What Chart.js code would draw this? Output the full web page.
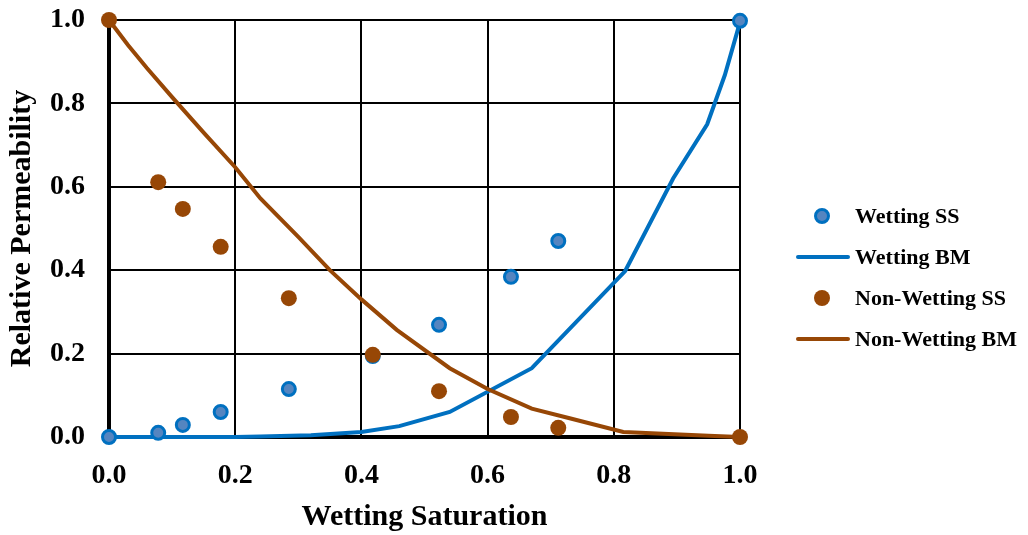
<!DOCTYPE html>
<html>
<head>
<meta charset="utf-8">
<script src="https://cdn.jsdelivr.net/npm/chart.js@4"></script>
<style>
  html, body { margin: 0; padding: 0; background: #fff; }
  #wrap { width: 1028px; height: 535px; position: relative; }
</style>
</head>
<body>
<div id="wrap"><canvas id="kr"></canvas></div>
<script>
// data
const seriesNames = ['Wetting SS', 'Wetting BM', 'Non-Wetting SS', 'Non-Wetting BM'];

const ssSat = [0, 0.078, 0.117, 0.177, 0.285, 0.418, 0.523, 0.637, 0.712, 1.0];
const wettingSS = [0, 0.01, 0.029, 0.06, 0.115, 0.194, 0.269, 0.384, 0.47, 0.998];
const nonWettingSS = [1.0, 0.611, 0.547, 0.456, 0.333, 0.197, 0.11, 0.048, 0.022, 0];

const wbmSat = [0, 0.1, 0.2, 0.24, 0.32, 0.40, 0.46, 0.54, 0.67, 0.818, 0.894, 0.948, 0.976, 1.0];
const wettingBM = [0, 0, 0, 0.001, 0.004, 0.012, 0.026, 0.06, 0.165, 0.398, 0.62, 0.75, 0.868, 0.995];

const nwbmSat = [0, 0.03, 0.06, 0.1, 0.15, 0.2, 0.24, 0.3, 0.35, 0.40, 0.456, 0.54, 0.6, 0.67, 0.73, 0.815, 0.95, 1.0];
const nonWettingBM = [1.0, 0.94, 0.885, 0.815, 0.73, 0.647, 0.572, 0.48, 0.40, 0.33, 0.257, 0.165, 0.115, 0.068, 0.045, 0.012, 0.003, 0];

const tickLabels = ['0.0', '0.2', '0.4', '0.6', '0.8', '1.0'];

const BLUE = '#0070c0';
const BLUE_FILL = '#5585c0';
const BROWN = '#974706';
const FONT = '"Liberation Serif", "Times New Roman", serif';

const pts = (xs, ys) => xs.map((x, i) => ({ x: x, y: ys[i] }));

// legend drawn by hand so circles and lines can sit side by side
const sideLegend = {
  id: 'sideLegend',
  afterDraw(chart) {
    const ctx = chart.ctx;
    const startY = 216, rowGap = 41, markX = 822, textX = 855;
    ctx.save();
    ctx.font = 'bold 22px ' + FONT;
    ctx.textBaseline = 'middle';
    chart.data.datasets.forEach((ds, i) => {
      const y = startY + i * rowGap;
      if (ds.showLine) {
        ctx.strokeStyle = ds.borderColor;
        ctx.lineWidth = 4;
        ctx.lineCap = 'round';
        ctx.beginPath();
        ctx.moveTo(798, y);
        ctx.lineTo(848, y);
        ctx.stroke();
      } else {
        ctx.beginPath();
        ctx.arc(markX, y, ds.pointRadius, 0, Math.PI * 2);
        ctx.fillStyle = ds.pointBackgroundColor;
        ctx.fill();
        if (ds.pointBorderWidth) {
          ctx.lineWidth = ds.pointBorderWidth;
          ctx.strokeStyle = ds.pointBorderColor;
          ctx.stroke();
        }
      }
      ctx.fillStyle = '#000';
      ctx.fillText(ds.label, textX, y + 1);
    });
    ctx.restore();
  }
};

new Chart(document.getElementById('kr'), {
  type: 'scatter',
  data: {
    datasets: [
      {
        label: seriesNames[0], data: pts(ssSat, wettingSS), order: 2, clip: false,
        pointRadius: 6.5, pointBorderWidth: 3,
        pointBackgroundColor: BLUE_FILL, pointBorderColor: BLUE, borderColor: BLUE
      },
      {
        label: seriesNames[1], data: pts(wbmSat, wettingBM), order: 3, clip: false,
        showLine: true, pointRadius: 0, borderColor: BLUE, borderWidth: 4, tension: 0
      },
      {
        label: seriesNames[2], data: pts(ssSat, nonWettingSS), order: 0, clip: false,
        pointRadius: 8, pointBorderWidth: 0,
        pointBackgroundColor: BROWN, pointBorderColor: BROWN, borderColor: BROWN
      },
      {
        label: seriesNames[3], data: pts(nwbmSat, nonWettingBM), order: 1, clip: false,
        showLine: true, pointRadius: 0, borderColor: BROWN, borderWidth: 4, tension: 0
      }
    ]
  },
  options: {
    responsive: true,
    maintainAspectRatio: false,
    animation: false,
    layout: { padding: { top: 20, right: 288, left: 0, bottom: 0 } },
    plugins: { legend: { display: false }, tooltip: { enabled: false } },
    scales: {
      x: {
        type: 'linear', min: 0, max: 1,
        afterFit: s => { s.height = 98; s.paddingLeft = 0; s.paddingRight = 0; },
        grid: { color: '#000', lineWidth: 2, drawTicks: false },
        border: { color: '#000', width: 4 },
        ticks: {
          stepSize: 0.2, padding: 22, color: '#000',
          font: { family: FONT, size: 28, weight: 'bold' },
          callback: (v) => tickLabels[Math.round(v * 5)]
        },
        title: {
          display: true, text: 'Wetting Saturation', color: '#000',
          font: { family: FONT, size: 30, weight: 'bold' }, padding: { top: 0, bottom: 0 }
        }
      },
      y: {
        type: 'linear', min: 0, max: 1,
        afterFit: s => { s.width = 109; s.paddingTop = 0; s.paddingBottom = 0; },
        grid: { color: '#000', lineWidth: 2, drawTicks: false },
        border: { color: '#000', width: 4 },
        ticks: {
          stepSize: 0.2, padding: 24, color: '#000',
          font: { family: FONT, size: 28, weight: 'bold' },
          callback: (v) => tickLabels[Math.round(v * 5)]
        },
        title: {
          display: true, text: 'Relative Permeability', color: '#000',
          font: { family: FONT, size: 30, weight: 'bold' }, padding: { bottom: 0 }
        }
      }
    }
  },
  plugins: [sideLegend]
});
</script>
</body>
</html>
